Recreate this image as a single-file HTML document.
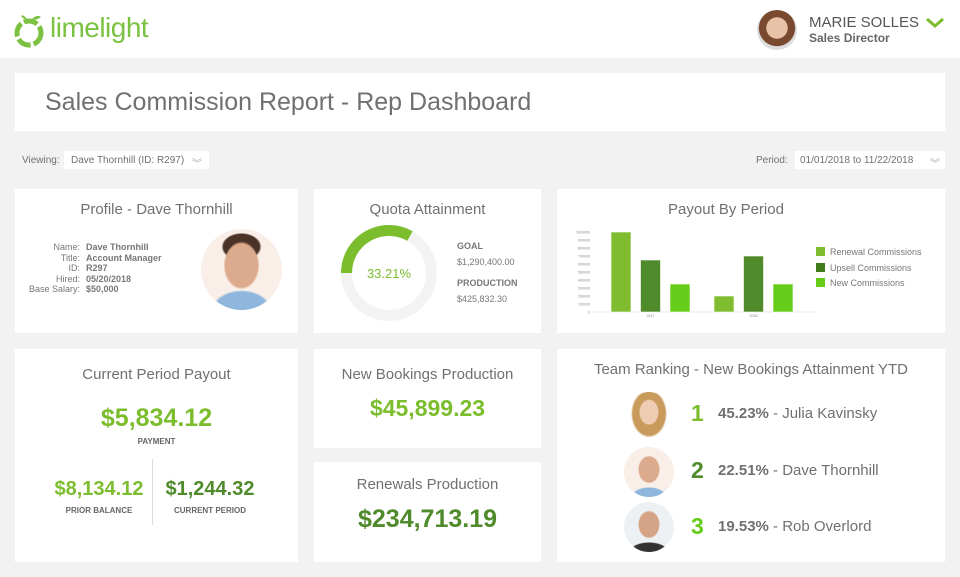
<!DOCTYPE html>
<html><head><meta charset="utf-8">
<style>
*{box-sizing:border-box;margin:0;padding:0}
body{width:960px;height:577px;background:#f2f2f2;font-family:"Liberation Sans",sans-serif;color:#707070;position:relative;overflow:hidden}
.abs{position:absolute}
.card{position:absolute;background:#fff}
.t{position:absolute;left:0;right:0;text-align:center;font-size:15px;color:#707070}
.g{color:#7cbd2e;font-weight:bold}
.avatar{position:absolute;border-radius:50%;overflow:hidden;background:#f7efe9}
</style></head><body>
<div class="abs" style="left:0;top:0;width:960px;height:58px;background:#fff">
  <svg class="abs" style="left:13px;top:12px" width="34" height="36" viewBox="0 0 34 36">
    <circle cx="16" cy="21" r="12" fill="none" stroke="#7cc242" stroke-width="5" stroke-dasharray="14 3"/>
    <path d="M14 7 Q10 2 8 4 Q11 8 14 7Z M19 7 Q24 2 28 5 Q23 9 19 7Z" fill="#7cc242"/>
  </svg>
  <div class="abs" style="left:50px;top:12px;font-size:28px;color:#7cc242;letter-spacing:-0.5px">limelight</div>
  <div class="avatar" style="left:757px;top:10px;width:40px;height:40px;background:radial-gradient(circle at 50% 45%,#e8c2a8 35%,#7a4a30 37%,#7a4a30 60%,#ddd 62%)"></div>
  <div class="abs" style="left:809px;top:14px;font-size:15px;color:#555">MARIE SOLLES</div>
  <div class="abs" style="left:809px;top:31px;font-size:12px;font-weight:bold;color:#666">Sales Director</div>
  <svg class="abs" style="left:926px;top:18px" width="18" height="10"><path d="M1 1 L9 8 L17 1" fill="none" stroke="#7cbd2e" stroke-width="3"/></svg>
</div>
<div class="card" style="left:15px;top:73px;width:930px;height:58px">
  <div class="abs" style="left:30px;top:15px;font-size:25px;color:#707070">Sales Commission Report - Rep Dashboard</div>
</div>
<div class="abs" style="left:22px;top:155px;font-size:10px">Viewing:</div>
<div class="abs" style="left:64px;top:151px;width:145px;height:18px;background:#fff;font-size:10px;padding:4px 7px">Dave Thornhill (ID: R297) <span style="color:#aaa;float:right">︾</span></div>
<div class="abs" style="left:756px;top:155px;font-size:10px">Period:</div>
<div class="abs" style="left:795px;top:151px;width:150px;height:18px;background:#fff;font-size:10px;padding:4px 5px">01/01/2018 to 11/22/2018 <span style="color:#aaa;float:right">︾</span></div>

<div class="card" style="left:15px;top:189px;width:283px;height:144px">
  <div class="t" style="top:12px">Profile - Dave Thornhill</div>
  <div class="abs" style="left:8px;top:53px;font-size:9px;line-height:10.5px;color:#777">
    <div style="display:flex"><div style="width:57px;text-align:right">Name:</div><div style="margin-left:6px;font-weight:bold">Dave Thornhill</div></div>
    <div style="display:flex"><div style="width:57px;text-align:right">Title:</div><div style="margin-left:6px;font-weight:bold">Account Manager</div></div>
    <div style="display:flex"><div style="width:57px;text-align:right">ID:</div><div style="margin-left:6px;font-weight:bold">R297</div></div>
    <div style="display:flex"><div style="width:57px;text-align:right">Hired:</div><div style="margin-left:6px;font-weight:bold">05/20/2018</div></div>
    <div style="display:flex"><div style="width:57px;text-align:right">Base Salary:</div><div style="margin-left:6px;font-weight:bold">$50,000</div></div>
  </div>
  <div class="avatar" style="left:186px;top:40px;width:81px;height:81px;background:radial-gradient(ellipse 18px 24px at 50% 45%,#dcaa8c 90%,transparent 100%),radial-gradient(ellipse 30px 20px at 50% 100%,#8fb6dc 90%,transparent 100%),radial-gradient(ellipse 20px 14px at 50% 22%,#4a3226 90%,transparent 100%),#f9efe8"></div>
</div>

<div class="card" style="left:314px;top:189px;width:227px;height:144px">
  <div class="t" style="top:12px">Quota Attainment</div>
  <svg class="abs" style="left:27px;top:36px" width="96" height="96" viewBox="0 0 96 96">
    <circle cx="48" cy="48" r="42.5" fill="none" stroke="#f3f3f3" stroke-width="11"/>
    <path id="arc" fill="none" stroke="#7cbd2e" stroke-width="11"/>
    <text x="48" y="53" text-anchor="middle" font-size="13" fill="#7cbd2e" font-family="Liberation Sans">33.21%</text>
  </svg>
  <div class="abs" style="left:143px;top:52px;font-size:9px;font-weight:bold;color:#777">GOAL</div>
  <div class="abs" style="left:143px;top:68px;font-size:9px;color:#777">$1,290,400.00</div>
  <div class="abs" style="left:143px;top:89px;font-size:9px;font-weight:bold;color:#777">PRODUCTION</div>
  <div class="abs" style="left:143px;top:105px;font-size:9px;color:#777">$425,832.30</div>
</div>

<div class="card" style="left:557px;top:189px;width:388px;height:144px">
  <div class="t" style="top:12px;right:50px">Payout By Period</div>
  <svg id="chart" class="abs" style="left:0;top:0" width="388" height="144"></svg>
  <div class="abs" style="left:259px;top:56px;font-size:9px;line-height:15.5px;color:#777">
    <div><span style="display:inline-block;width:9px;height:9px;background:#80bc2f;vertical-align:-1px;margin-right:5px"></span>Renewal Commissions</div>
    <div><span style="display:inline-block;width:9px;height:9px;background:#3f7d1a;vertical-align:-1px;margin-right:5px"></span>Upsell Commissions</div>
    <div><span style="display:inline-block;width:9px;height:9px;background:#66cc1a;vertical-align:-1px;margin-right:5px"></span>New Commissions</div>
  </div>
</div>

<div class="card" style="left:15px;top:349px;width:283px;height:213px">
  <div class="t" style="top:17px">Current Period Payout</div>
  <div class="t g" style="top:55px;font-size:25px">$5,834.12</div>
  <div class="t" style="top:88px;font-size:8px;font-weight:bold;color:#666">PAYMENT</div>
  <div class="abs" style="left:137px;top:110px;width:1px;height:66px;background:#ddd"></div>
  <div class="abs g" style="left:0;width:168px;text-align:center;top:129px;font-size:20px">$8,134.12</div>
  <div class="abs" style="left:0;width:168px;text-align:center;top:157px;font-size:8px;font-weight:bold;color:#666">PRIOR BALANCE</div>
  <div class="abs g" style="left:137px;width:116px;text-align:center;top:129px;font-size:20px;color:#4f8a2b">$1,244.32</div>
  <div class="abs" style="left:137px;width:116px;text-align:center;top:157px;font-size:8px;font-weight:bold;color:#666">CURRENT PERIOD</div>
</div>

<div class="card" style="left:314px;top:349px;width:227px;height:99px">
  <div class="t" style="top:17px">New Bookings Production</div>
  <div class="t g" style="top:46px;font-size:23px">$45,899.23</div>
</div>
<div class="card" style="left:314px;top:462px;width:227px;height:100px">
  <div class="t" style="top:14px">Renewals Production</div>
  <div class="t g" style="top:43px;font-size:25px;color:#4f8a2b">$234,713.19</div>
</div>

<div class="card" style="left:557px;top:349px;width:388px;height:213px">
  <div class="t" style="top:12px">Team Ranking - New Bookings Attainment YTD</div>
  <div class="avatar" style="left:68px;top:43px;width:48px;height:48px;background:radial-gradient(ellipse 10px 13px at 50% 42%,#efcdb5 90%,transparent 100%),radial-gradient(ellipse 18px 24px at 50% 45%,#c89a5c 90%,transparent 100%),#fff"></div>
  <div class="avatar" style="left:67px;top:98px;width:50px;height:50px;background:radial-gradient(ellipse 11px 14px at 50% 45%,#dcaa8c 90%,transparent 100%),radial-gradient(ellipse 18px 10px at 50% 100%,#8fb6dc 90%,transparent 100%),#f9efe8"></div>
  <div class="avatar" style="left:67px;top:153px;width:50px;height:50px;background:radial-gradient(ellipse 11px 14px at 50% 45%,#d5a386 90%,transparent 100%),radial-gradient(ellipse 20px 10px at 50% 100%,#333 90%,transparent 100%),#eef1f4"></div>
  <div class="abs" style="left:134px;top:51px;font-size:23px;font-weight:bold;color:#7cbd2e">1</div>
  <div class="abs" style="left:161px;top:56px;font-size:15px;color:#707070"><b>45.23%</b> - Julia Kavinsky</div>
  <div class="abs" style="left:134px;top:108px;font-size:23px;font-weight:bold;color:#4f8a2b">2</div>
  <div class="abs" style="left:161px;top:113px;font-size:15px;color:#707070"><b>22.51%</b> - Dave Thornhill</div>
  <div class="abs" style="left:134px;top:164px;font-size:23px;font-weight:bold;color:#66cc1a">3</div>
  <div class="abs" style="left:161px;top:169px;font-size:15px;color:#707070"><b>19.53%</b> - Rob Overlord</div>
</div>

<script>
const quotaPct = [33.21];
const years = ["2017","2018"];
const renewal = [1000000, 200000];
const upsell = [650000, 700000];
const newComm = [350000, 350000];
const yTicks = [0,100000,200000,300000,400000,500000,600000,700000,800000,900000,1000000];

(function(){
  const p=quotaPct[0]/100, cx=48, cy=48, r=42.5;
  const a0=-Math.PI/2*1-Math.PI/2; // 9 o'clock
  const a1=a0+p*2*Math.PI;
  const x0=cx+r*Math.cos(a0), y0=cy+r*Math.sin(a0), x1=cx+r*Math.cos(a1), y1=cy+r*Math.sin(a1);
  const arc=document.getElementById('arc');
  arc.setAttribute('d',`M${x0} ${y0} A${r} ${r} 0 ${p>0.5?1:0} 1 ${x1} ${y1}`);
  
  
})();

(function(){
  const svg=document.getElementById('chart');
  
  
  const NS='http://www.w3.org/2000/svg';
  const y0=123, yTop=43, max=1000000;
  const yS=v=>y0-(v/max)*(y0-yTop);
  const groupX=[54,157], barW=20, step=29.5;
  function el(t,a){const e=document.createElementNS(NS,t);for(const k in a)e.setAttribute(k,a[k]);svg.appendChild(e);return e;}
  yTicks.forEach(v=>{
    const t=el('text',{x:33,y:yS(v)+1.5,'text-anchor':'end','font-size':'3.6','fill':'#888','font-family':'Liberation Sans'});
    t.textContent=v;
    
    
  });
  const ax=el('line',{x1:36,x2:258,y1:y0,y2:y0,stroke:'#ccc','stroke-width':0.7,'stroke-dasharray':'1.5 1'});
  
  
  const series=[[renewal,'#80bc2f','bar-renewal'],[upsell,'#4f8a2b','bar-upsell'],[newComm,'#66cc1a','bar-new']];
  years.forEach((yr,i)=>{
    series.forEach((s,j)=>{
      const v=s[0][i];
      const r=el('rect',{x:groupX[i]+j*step,y:yS(v),width:barW,height:y0-yS(v),fill:s[1],stroke:'#fff','stroke-width':0.6});
      
      
    });
    const t=el('text',{x:groupX[i]+step+barW/2,y:y0+5,'text-anchor':'middle','font-size':'3.6','fill':'#888','font-family':'Liberation Sans'});
    t.textContent=yr;
    
    
  });
})();
</script>
</body></html>
